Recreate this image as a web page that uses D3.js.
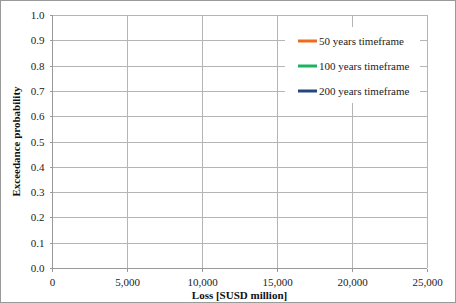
<!DOCTYPE html>
<html><head><meta charset="utf-8">
<script src="https://cdn.jsdelivr.net/npm/d3@7"></script>
<style>body{margin:0;background:#fff}svg{display:block}</style>
</head><body>
<svg id="c" width="456" height="303"></svg>
<script>
const seriesNames = ["50 years timeframe", "100 years timeframe", "200 years timeframe"];
const seriesColors = ["#EE6D1B", "#1DB35E", "#24477F"];
const xTicks = [0, 5000, 10000, 15000, 20000, 25000];
const yTicks = [0, 0.1, 0.2, 0.3, 0.4, 0.5, 0.6, 0.7, 0.8, 0.9, 1.0];
const series50 = [];
const series100 = [];
const series200 = [];
const allSeries = [series50, series100, series200];

const svg = d3.select("#c");
const font = "'Liberation Serif','Times New Roman',serif";
svg.append("rect").attr("x",0.5).attr("y",0.5).attr("width",455).attr("height",302)
  .attr("fill","#fff").attr("stroke","#9a9a9a");

const L=52, R=427, T=15, B=268;
const x = d3.scaleLinear().domain([0,25000]).range([L,R]);
const y = d3.scaleLinear().domain([0,1]).range([B,T]);

const g = svg.append("g");
// gridlines
g.selectAll(".vg").data(xTicks.slice(1)).join("line")
  .attr("x1",d=>Math.round(x(d))+0.5).attr("x2",d=>Math.round(x(d))+0.5)
  .attr("y1",T).attr("y2",B).attr("stroke","#b5b5b5").attr("stroke-width",1);
g.selectAll(".hg").data(yTicks.slice(1)).join("line")
  .attr("x1",L).attr("x2",R).attr("y1",d=>Math.round(y(d))+0.5).attr("y2",d=>Math.round(y(d))+0.5)
  .attr("stroke","#b5b5b5").attr("stroke-width",1);

// axes
const xa = svg.append("g").attr("transform",`translate(0,${B+0.5})`)
  .call(d3.axisBottom(x).tickValues(xTicks).tickFormat(d3.format(",")).tickSize(3).tickPadding(7));
const ya = svg.append("g").attr("transform",`translate(${L+0.5},0)`)
  .call(d3.axisLeft(y).tickValues(yTicks).tickFormat(d3.format(".1f")).tickSize(3).tickPadding(5));
[xa,ya].forEach(a=>{
  a.selectAll("path,line").attr("stroke","#999").attr("shape-rendering","crispEdges");
  a.selectAll("text").attr("font-family",font).attr("font-size","11px").attr("fill","#222");
});
xa.selectAll(".tick line").attr("transform","translate(-0.5,0)");
xa.select("path").attr("d",`M${L},0H${R}`);
ya.select("path").attr("d",`M0,${B}V${T}`);

// series lines (no data points visible)
const line = d3.line().x(d=>x(d[0])).y(d=>y(d[1]));
svg.selectAll(".s").data(allSeries).join("path")
  .attr("d",line).attr("fill","none").attr("stroke",(d,i)=>seriesColors[i]).attr("stroke-width",2.5);

// legend
const lg = svg.append("g");
lg.append("rect").attr("x",285).attr("y",27).attr("width",135).attr("height",76).attr("fill","#fff");
const items = lg.selectAll(".li").data(seriesNames).join("g")
  .attr("transform",(d,i)=>`translate(298,${41+i*25})`);
items.append("line").attr("x1",0).attr("x2",19).attr("y1",0).attr("y2",0)
  .attr("stroke",(d,i)=>seriesColors[i]).attr("stroke-width",3);
items.append("text").attr("x",21).attr("y",4).text(d=>d)
  .attr("font-family",font).attr("font-size","11px").attr("fill","#222");

// axis titles
svg.append("text").attr("x",(L+R)/2).attr("y",299).attr("text-anchor","middle")
  .attr("font-family",font).attr("font-size","11px").attr("font-weight","bold").attr("fill","#111")
  .text("Loss [SUSD million]");
svg.append("text").attr("transform",`translate(20,${(T+B)/2}) rotate(-90)`).attr("text-anchor","middle")
  .attr("font-family",font).attr("font-size","11px").attr("font-weight","bold").attr("fill","#111")
  .text("Exceedance probability");
</script>
</body></html>
